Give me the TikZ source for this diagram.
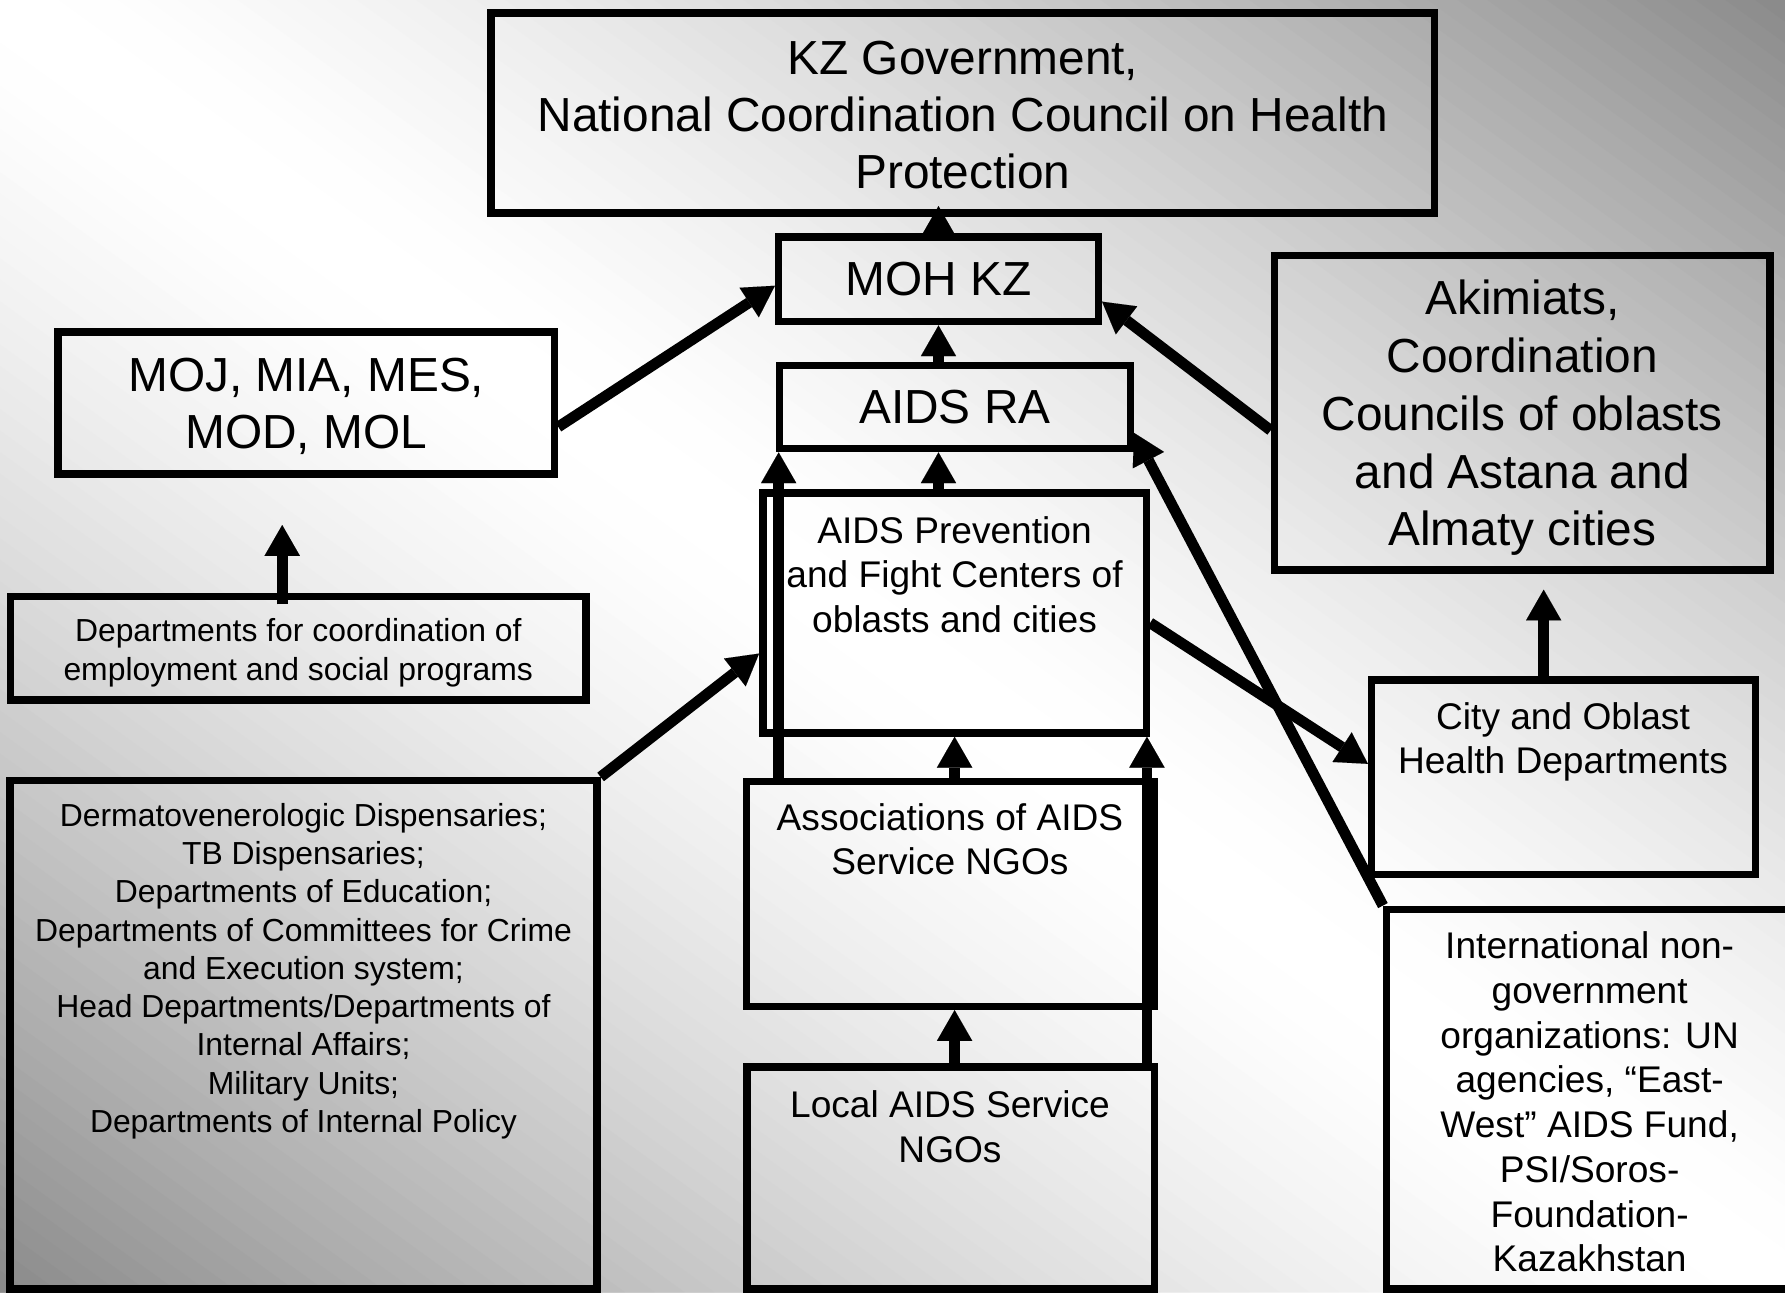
\documentclass[tikz,border=0pt]{standalone}
\usepackage{fontspec}
\setmainfont{Liberation Sans}
\usetikzlibrary{arrows.meta,calc}
\begin{document}
\begin{tikzpicture}[x=0.5pt,y=-0.5pt,
  box/.style={draw=black, line width=3.3pt, rectangle, inner sep=0pt},
  big/.style={font=\fontsize{21pt}{25pt}\selectfont, align=center},
  med/.style={font=\fontsize{16.3pt}{19.45pt}\selectfont, align=center, inner sep=0pt},
  sml/.style={font=\fontsize{14pt}{16.8pt}\selectfont, align=center, inner sep=0pt},
  arr/.style={line width=4.75pt, -{Triangle[width=15.5pt,length=13.5pt,line width=0.01pt]}},
]
\useasboundingbox (0,0) rectangle (1568,1135);
\clip (0,0) rectangle (1568,1135);
% background: white along the TL-BR diagonal, grey towards the TR and BL corners
\fill[white] (0,0) rectangle (1568,1135);
\foreach \k in {1,...,60}{
  \pgfmathsetmacro\c{\k/60}
  \pgfmathsetmacro\p{47*((\k-0.5)/60)^1.4}
  \fill[black!\p] ({\c*1568},0) -- (1568,0) -- (1568,{(1-\c)*1135}) -- cycle;
  \fill[black!\p] (0,{\c*1135}) -- (0,1135) -- ({(1-\c)*1568},1135) -- cycle;
}

% boxes
\node[box, minimum width=414.3pt, minimum height=87.8pt,
  label={[big, yshift=-0.75pt]center:{KZ Government,\\National Coordination Council on Health\\Protection}}] (kz) at (845.8,99.2) {};
\node[box, big, minimum width=140.4pt, minimum height=37.2pt] (moh) at (824.4,245.4) {MOH KZ};
\node[box, big, minimum width=154.15pt, minimum height=36.6pt] (ra) at (838.75,357.5) {AIDS RA};
\node[box, minimum width=218.1pt, minimum height=62.3pt,
  label={[big, yshift=-1.5pt]center:{MOJ, MIA, MES,\\MOD, MOL}}] (moj) at (269,354) {};
\node[box, minimum width=217.75pt, minimum height=138.15pt,
  label={[font=\fontsize{21pt}{25.4pt}\selectfont, align=center, yshift=-2.25pt]center:{Akimiats,\\Coordination\\Councils of oblasts\\and Astana and\\Almaty cities}}] (akim) at (1337.25,362.55) {};
\node[box, minimum width=252.75pt, minimum height=45.4pt] (dept) at (262.15,569.5) {};
\node[box, minimum width=168.45pt, minimum height=105.4pt] (prev) at (838.55,538.5) {};
\node[box, minimum width=179.35pt, minimum height=98.8pt] (assoc) at (834.95,785.2) {};
\node[box, minimum width=178.9pt, minimum height=97.6pt] (local) at (835.1,1034.9) {};
\node[box, minimum width=168.55pt, minimum height=85.5pt] (city) at (1373.45,682.8) {};
\node[box, minimum width=178.45pt, minimum height=166.85pt] (intl) at (1396.55,965.65) {};
\node[box, minimum width=257.65pt, minimum height=223.35pt] (derm) at (266.65,909.15) {};

% texts of the top-aligned boxes
\node[sml, font=\fontsize{14pt}{17pt}\selectfont] (deptT) at (262,573.6) {Departments for coordination of\\employment and social programs};
\node[med] (prevT) at (838.5,504.7) {AIDS Prevention\\and Fight Centers of\\oblasts and cities};
\node[med] (assocT) at (834.5,737.5) {Associations of AIDS\\Service NGOs};
\node[med] (localT) at (834.5,989.8) {Local AIDS Service\\NGOs};
\node[med] (cityT) at (1373,652) {City and Oblast\\Health Departments};
\node[med, font=\fontsize{16.3pt}{19.65pt}\selectfont] (intlT) at (1396.4,968) {International non-\\government\\organizations: UN\\agencies, “East-\\West” AIDS Fund,\\PSI/Soros-\\Foundation-\\Kazakhstan};
\node[sml] (dermT) at (266.6,853) {Dermatovenerologic Dispensaries;\\TB Dispensaries;\\Departments of Education;\\Departments of Committees for Crime\\and Execution system;\\Head Departments/Departments of\\Internal Affairs;\\Military Units;\\Departments of Internal Policy};

% helper coordinates
\coordinate (xL) at (684,0);
\coordinate (xR) at (1007.5,0);
\coordinate (akTip) at (1356,518);
\coordinate (mjTip) at (247.9,461.2);

% connectors
\draw[arr] (moh.north) -- ($(moh.north |- kz.south)+(0,-9.3)$);
\draw[arr] (moh.south |- ra.north) -- (moh.south);
\draw[arr] (moh.south |- prev.north) -- (moh.south |- ra.south);
\draw[arr] (xL |- assoc.north) -- (xL |- ra.south);
\draw[arr] (prev.south |- assoc.north) -- (prev.south);
\draw[arr] (prev.south |- local.north) -- (prev.south |- assoc.south);
\draw[arr] (xR |- local.north) -- (xR |- prev.south);
\draw[arr] ($(moj.east)+(0,21)$) -- ($(moh.west)+(0,5.6)$);
\draw[arr] ($(akim.west)+(0,15.5)$) -- ($(moh.east)+(0,19.6)$);
\draw[arr] ($(prev.east)+(0,8.6)$) -- ($(city.west)+(0,-11.8)$);
\draw[arr] (intl.north west) -- ($(ra.east)+(0,22.8)$);
\draw[arr] (akTip |- city.north) -- (akTip);
\draw[arr] ($(mjTip |- dept.north)+(0,10)$) -- (mjTip);
\draw[arr] (derm.north east) -- ($(prev.west)+(0,35.6)$);
\end{tikzpicture}
\end{document}
